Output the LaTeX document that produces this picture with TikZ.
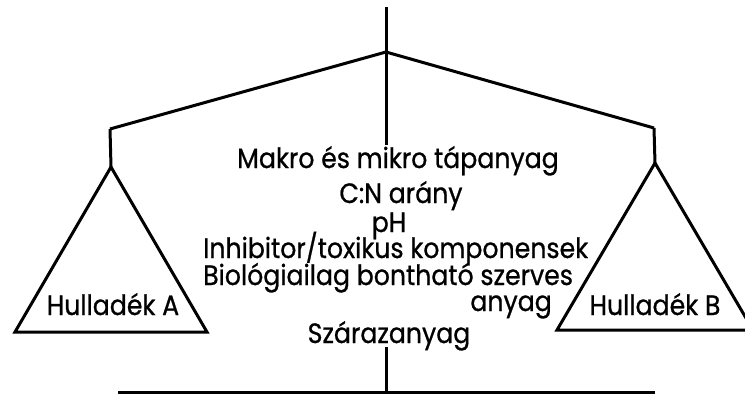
\documentclass[tikz,border=0pt]{standalone}
\usepackage{fontspec}
\setmainfont{Poppins}[FakeStretch=0.9, FakeBold=0.8]
\usetikzlibrary{positioning}

\begin{document}
\begin{tikzpicture}[
  x=1pt, y=-1pt,
  every node/.style={font=\fontsize{28}{30}\selectfont, inner sep=0pt},
  beam/.style={line width=3pt, line join=miter},
  label/.style={anchor=base}
]
\useasboundingbox (0,0) rectangle (745,394);
\clip (0,0) rectangle (745,394);

\coordinate (top) at (386,7);
\coordinate (pivot) at (386,52);
\coordinate (stem) at (386,145);
\coordinate (beamL) at (110,129);
\coordinate (beamR) at (654,128);
\coordinate (apexA) at (111,167);
\coordinate (apexB) at (655,163);
\coordinate (baseAL) at (15,332);
\coordinate (baseAR) at (207,332);
\coordinate (baseBL) at (557,330);
\coordinate (baseBR) at (753,330);
\coordinate (foot) at (386,347);
\coordinate (groundL) at (118,392);
\coordinate (groundR) at (655,392);
\coordinate (ground) at (386,392);

\node[label] (makro) at (398,168) {Makro és mikro tápanyag};
\node[label] (cn) at (401,203) {C:N arány};
\node[label] (ph) at (389,232) {pH};
\node[label, anchor=base west] (inhib) at (203,258) {Inhibitor/toxikus komponensek};
\node[label, anchor=base west] (bio) at (203,285) {Biológiailag bontható szerves};
\node[label, anchor=base east] (anyag) at (552,311) {anyag};
\node[label] (szaraz) at (389,343) {Szárazanyag};
\node[label] (wasteA) at (113,315) {Hulladék A};
\node[label] (wasteB) at (655,315) {Hulladék B};

\draw[beam] (top) -- (stem);
\draw[beam] (beamL) -- (pivot) -- (beamR);
\draw[beam] (beamL) -- (apexA);
\draw[beam] (beamR) -- (apexB);
\draw[beam] (apexA) -- (baseAL) -- (baseAR) -- cycle;
\draw[beam] (apexB) -- (baseBL) -- (baseBR) -- cycle;
\draw[beam] (foot) -- (ground);
\draw[beam] (groundL) -- (groundR);
\end{tikzpicture}
\end{document}
